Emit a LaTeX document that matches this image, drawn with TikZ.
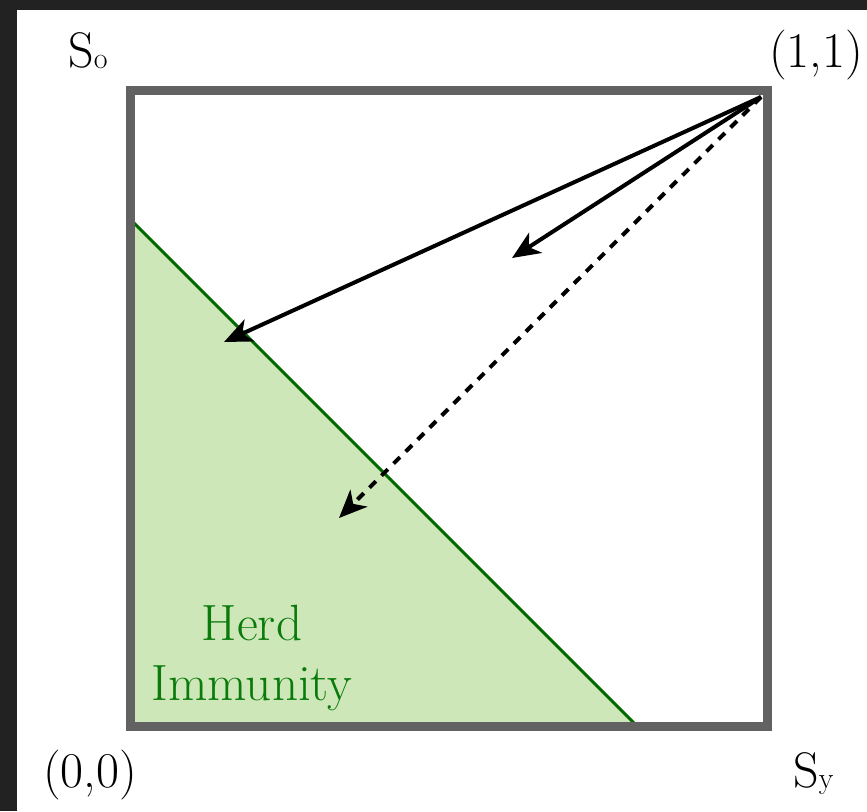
\documentclass[tikz,border=0pt]{standalone}
\usepackage{fontspec}
\setmainfont{Latin Modern Roman}
\usetikzlibrary{arrows.meta}
\definecolor{frame}{HTML}{222222}
\definecolor{boxgray}{HTML}{626262}
\definecolor{herdfill}{HTML}{CDE7B9}
\definecolor{herdline}{HTML}{006A00}
\definecolor{herdtext}{HTML}{0A7A0A}
\tikzset{
  lbl/.style={inner sep=0pt, font=\fontsize{50}{56}\selectfont},
  vec/.style={line width=4pt, -{Stealth[length=28pt,width=24pt,inset=8pt]}},
  dvec/.style={vec, dash pattern=on 9pt off 8pt}
}
\begin{document}
\begin{tikzpicture}[x=1pt,y=-1pt]
\useasboundingbox (0,0) rectangle (867,811);
\fill[frame] (0,0) rectangle (867,811);
\fill[white] (17,10) rectangle (867,811);
% herd immunity region
\fill[herdfill] (130,219) -- (130,726) -- (637,726) -- cycle;
\draw[herdline, line width=3pt] (130,219) -- (637,726);
% box
\draw[boxgray, line width=9pt] (130,90) rectangle (767,726);
% labels
\node[lbl, anchor=base west] (so) at (68,67) {S\raisebox{-1pt}{\fontsize{30}{30}\selectfont o}};
\node[lbl, anchor=base east] (one) at (863,67) {(1,1)};
\node[lbl, anchor=base west] (zero) at (43,787) {(0,0)};
\node[lbl, anchor=base west] (sy) at (793,787) {S\raisebox{-1pt}{\fontsize{30}{30}\selectfont y}};
\node[lbl, text=herdtext, align=center, font=\fontsize{51}{60}\selectfont, anchor=base] (herd) at (252,700) {Herd\\Immunity};
% arrows
\coordinate (src) at (761,97);
\coordinate (t1) at (224,342);
\coordinate (t2) at (512,258);
\coordinate (t3) at (339,518);
\draw[vec] (src) -- (t1);
\draw[vec] (src) -- (t2);
\draw[dvec] (src) -- (t3);
\end{tikzpicture}
\end{document}
